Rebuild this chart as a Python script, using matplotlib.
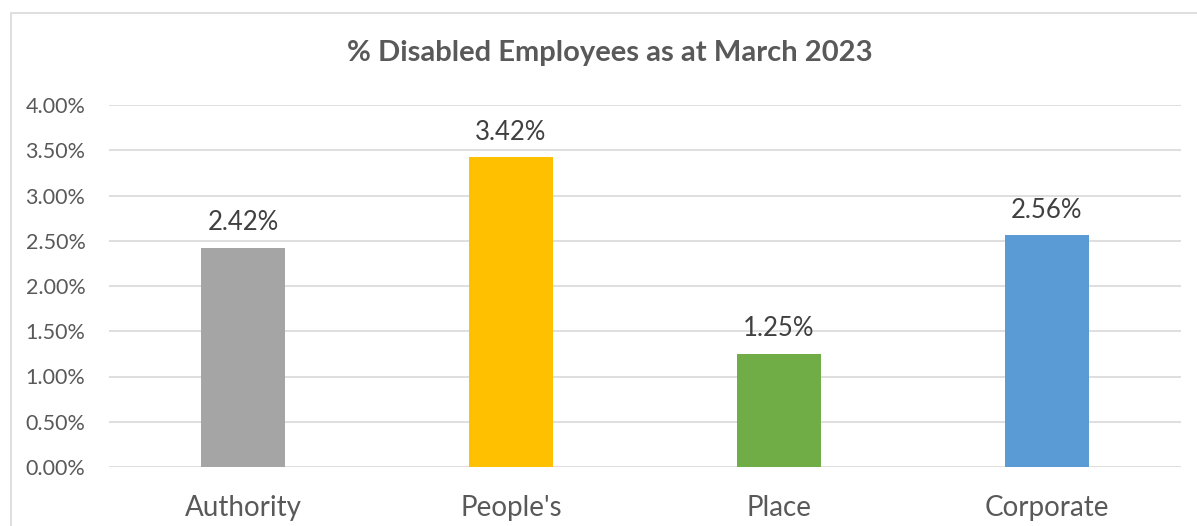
import matplotlib
matplotlib.use("Agg")
import matplotlib.pyplot as plt
from matplotlib.patches import Rectangle
from matplotlib.ticker import FuncFormatter, MultipleLocator

categories = ["Authority", "People's", "Place", "Corporate"]
values = [2.42, 3.42, 1.25, 2.56]
colors = ["#A5A5A5", "#FFC000", "#70AD47", "#5B9BD5"]
title = "% Disabled Employees as at March 2023"

plt.rcParams["font.family"] = ["Lato", "DejaVu Sans"]

W, H = 1197, 526
fig = plt.figure(figsize=(W / 100, H / 100), dpi=100)
fig.patch.set_facecolor("white")

# chart frame (left and top edges visible)
fig.add_artist(Rectangle((10.5 / W, -0.05), 1.2, (H - 12.5) / H + 0.05,
                         transform=fig.transFigure, fill=False,
                         edgecolor="#D9D9D9", linewidth=1.2))

left, right = 109 / W, 1181 / W
bottom, top = 1 - 467 / H, 1 - 105 / H
ax = fig.add_axes([left, bottom, right - left, top - bottom])

x = range(len(categories))
ax.bar(x, values, width=84 / 268, color=colors, zorder=3)
ax.set_xlim(-0.5, len(categories) - 0.5)
ax.set_ylim(0, 4.0)
ax.yaxis.set_major_locator(MultipleLocator(0.5))
ax.yaxis.set_major_formatter(FuncFormatter(lambda v, p: f"{v:.2f}%"))
ax.grid(axis="y", color="#D9D9D9", linewidth=1.2, zorder=0)
for s in ax.spines.values():
    s.set_visible(False)
ax.tick_params(axis="y", length=0, pad=17, labelsize=15.5, labelcolor="#595959")
ax.tick_params(axis="x", length=0, pad=20, labelsize=20, labelcolor="#595959")
ax.set_xticks(list(x))
ax.set_xticklabels(categories)

for xi, v in zip(x, values):
    ax.annotate(f"{v:.2f}%", (xi, v), xytext=(0, 9), textcoords="offset points",
                ha="center", va="bottom", fontsize=18.5, color="#404040")

fig.text(610 / W, 1 - 53 / H, title, ha="center", va="center",
         fontsize=21, fontweight="bold", color="#595959")

fig.savefig("out.png", dpi=100, facecolor="white")
